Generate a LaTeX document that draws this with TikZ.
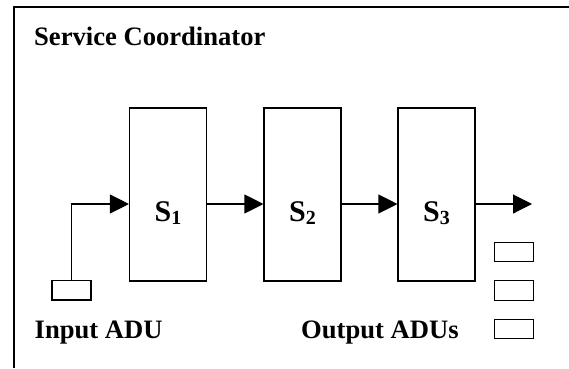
\documentclass[tikz,border=0pt]{standalone}
\usepackage{fontspec}
\setmainfont{Liberation Serif}
\usetikzlibrary{arrows.meta}
\begin{document}
\begin{tikzpicture}[x=1pt,y=-1pt,
  stagebox/.style={draw,line width=1.1pt,minimum width=77pt,minimum height=173pt,inner sep=0pt},
  adubox/.style={draw,line width=1.1pt,minimum width=39pt,minimum height=19.3pt,inner sep=0pt},
  lbl/.style={font=\bfseries\fontsize{26.6}{30}\selectfont,inner sep=0pt},
  slbl/.style={font=\bfseries\fontsize{30}{32}\selectfont,inner sep=0pt},
  arr/.style={line width=1.1pt,-{Triangle[length=19pt,width=19pt]}}]
\useasboundingbox (0,0) rectangle (569,368);
\draw[line width=2.2pt] (14,368) -- (14,7) -- (569,7);
\node[lbl,anchor=base west] (title) at (34,45) {Service Coordinator};
\node[stagebox] (s1) at (168,194.5) {};
\node[stagebox] (s2) at (302.5,194.5) {};
\node[stagebox] (s3) at (436.5,194.5) {};
\node[slbl,anchor=base] (t1) at (168,221.5) {S\raisebox{-3pt}{\fontsize{20}{20}\selectfont 1}};
\node[slbl,anchor=base] (t2) at (302.5,221.5) {S\raisebox{-3pt}{\fontsize{20}{20}\selectfont 2}};
\node[slbl,anchor=base] (t3) at (436.5,221.5) {S\raisebox{-3pt}{\fontsize{20}{20}\selectfont 3}};
\path (s1.west) ++(0,9.5) coordinate (s1in);
\path (s2.west) ++(0,9.5) coordinate (s2in);
\path (s3.west) ++(0,9.5) coordinate (s3in);
\path (s1.east) ++(0,9.5) coordinate (s1out);
\path (s2.east) ++(0,9.5) coordinate (s2out);
\path (s3.east) ++(0,9.5) coordinate (s3out);
\coordinate (outend) at (532,204);
\node[adubox] (inadu) at (71.5,290.3) {};
\node[adubox] (o1) at (513.7,252) {};
\node[adubox] (o2) at (513.7,290.5) {};
\node[adubox] (o3) at (513.7,329.2) {};
\draw[arr] (inadu.north) |- (s1in);
\draw[arr] (s1out) -- (s2in);
\draw[arr] (s2out) -- (s3in);
\draw[arr] (s3out) -- (outend);
\node[lbl,anchor=base west] (inlbl) at (34.5,338.3) {Input ADU};
\node[lbl,anchor=base west] (outlbl) at (301,338.5) {Output ADUs};
\end{tikzpicture}
\end{document}
